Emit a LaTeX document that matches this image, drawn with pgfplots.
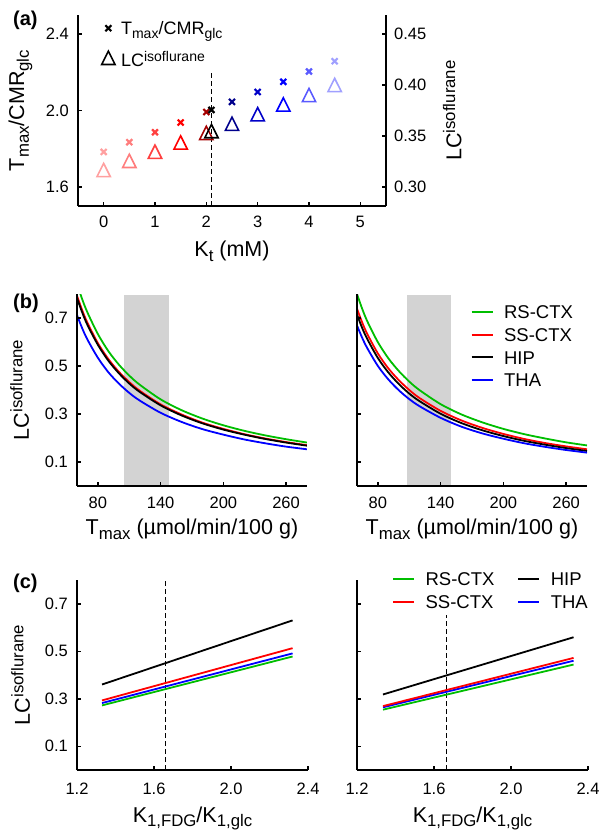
\documentclass[border=0pt]{standalone}
\usepackage{fontspec}
\setmainfont{Liberation Sans}
\usepackage{pgfplots}
\pgfplotsset{compat=1.18}

\definecolor{gcol}{RGB}{0,190,0}
\definecolor{rcol}{RGB}{255,0,0}
\definecolor{bcol}{RGB}{0,0,255}
\definecolor{shade}{RGB}{211,211,211}
\definecolor{m0}{RGB}{255,160,160}
\definecolor{m1}{RGB}{255,125,125}
\definecolor{m2}{RGB}{255,65,65}
\definecolor{m3}{RGB}{255,0,0}
\definecolor{m4}{RGB}{165,0,0}
\definecolor{m5}{RGB}{0,0,140}
\definecolor{m6}{RGB}{0,0,200}
\definecolor{m7}{RGB}{0,0,255}
\definecolor{m8}{RGB}{90,90,255}
\definecolor{m9}{RGB}{160,160,255}

\newdimen\ssbase \newdimen\sssize \newdimen\ssraise
\makeatletter
\newcommand\subsup[3]{{\ssbase=\f@size pt\relax\sssize=#1\ssbase\ssraise=#2\ssbase\edef\ss@sz{\strip@pt\sssize}\raisebox{\ssraise}{\fontsize{\ss@sz}{\ss@sz}\selectfont #3}}}
\makeatother
\newcommand\sub[1]{\subsup{0.78}{-0.22}{#1}}
\newcommand\sups[1]{\subsup{0.78}{0.30}{#1}}

\newcommand\tickfont{\fontsize{16.5}{18}\selectfont}
\newcommand\labfont{\fontsize{21.5}{24}\selectfont}
\newcommand\legfont{\fontsize{18.5}{20}\selectfont}
\newcommand\legfontA{\fontsize{18}{20}\selectfont}

\pgfplotsset{
  base/.style={scale only axis, anchor=south west, axis on top,
    axis line style={line width=1.8pt,-}, x axis line style={-}, y axis line style={-},
    major tick style={black, line width=1.5pt}, major tick length=4.3pt, tick align=inside,
    tick label style={font=\tickfont},
    label style={font=\labfont},
    xlabel style={anchor=base}, ylabel style={anchor=base}},
  lefty/.style={axis x line*=bottom, axis y line*=left,
    yticklabel style={anchor=east, inner sep=0pt, xshift=-9pt}},
  xtl/.style={xticklabel style={anchor=base, inner sep=0pt, yshift=#1}},
  linelegend/.style={legend image code/.code={\draw[##1, line width=1.8pt] (0pt,0pt) -- (21pt,0pt);},
    legend cell align=left,
    legend style={draw=none, fill=none, font=\legfont, inner sep=0pt, row sep=9.3pt,
      nodes={inner sep=0pt, text height=13.3pt, text depth=0pt},
      /tikz/every odd column/.append style={column sep=10.5pt},
      /tikz/every even column/.append style={column sep=23pt}}},
  crs/.style={only marks, mark=x, mark size=4.2pt, line width=2.2pt},
  tri/.style={only marks, mark=triangle, mark size=7.7pt, line width=1.6pt, mark options={yscale=1.15}},
  cv/.style={line width=1.8pt, smooth, forget plot},
  ln/.style={line width=1.8pt, forget plot},
  dsh/.style={black, line width=1.6pt, dash pattern=on 5pt off 3pt, forget plot},
}

\begin{document}
\begin{tikzpicture}
\useasboundingbox (0,0) rectangle (601pt,831pt);

% ---------------- (a) left axis ----------------
\begin{axis}[base, lefty, xtl=-22pt, at={(78pt,625pt)}, width=308pt, height=191pt,
  xmin=-0.5, xmax=5.5, ymin=1.5, ymax=2.5,
  xtick={0,1,2,3,4,5}, xticklabels={0,1,2,3,4,5},
  ytick={1.6,2.0,2.4}, yticklabels={1.6,2.0,2.4},
  xlabel={K\sub{t} (mM)}, xlabel style={at={(axis description cs:0.5,-0.267)}},
  ylabel={T\sub{max}/CMR\sub{glc}}, ylabel style={at={(axis description cs:-0.1747,0.5)}},
  legend image code/.code={\draw[#1] plot coordinates {(0pt,0pt)};},
  legend cell align=left,
  legend style={at={(axis description cs:0.0763,0.966)}, anchor=north west, draw=none, fill=none,
    font=\legfontA, inner sep=0pt, row sep=16.5pt,
    nodes={inner sep=0pt, text height=13pt, text depth=0pt},
    /tikz/every odd column/.append style={column sep=6pt}},
]
\addplot[crs, m0, forget plot] coordinates {(0,1.783)};
\addplot[crs, m1, forget plot] coordinates {(0.5,1.834)};
\addplot[crs, m2, forget plot] coordinates {(1,1.886)};
\addplot[crs, m3, forget plot] coordinates {(1.5,1.937)};
\addplot[crs, m4, forget plot] coordinates {(2,1.992)};
\addplot[crs, m5, forget plot] coordinates {(2.5,2.045)};
\addplot[crs, m6, forget plot] coordinates {(3,2.097)};
\addplot[crs, m7, forget plot] coordinates {(3.5,2.150)};
\addplot[crs, m8, forget plot] coordinates {(4,2.204)};
\addplot[crs, m9, forget plot] coordinates {(4.5,2.258)};
\addplot[dsh] coordinates {(2.1,1.5) (2.1,2.195)};
\addplot[crs, black, forget plot] coordinates {(2.1,2.003)};
\addlegendimage{only marks, mark=x, mark size=4.2pt, line width=2.2pt, black}
\addlegendentry{T\sub{max}/CMR\sub{glc}}
\addlegendimage{only marks, mark=triangle, mark size=7.7pt, line width=1.6pt, mark options={yscale=1.15}, black}
\addlegendentry{LC\sups{isoflurane}}
\end{axis}

% ---------------- (a) right axis ----------------
\begin{axis}[base, at={(78pt,625pt)}, width=308pt, height=191pt,
  xmin=-0.5, xmax=5.5, ymin=0.28125, ymax=0.46875,
  hide x axis, axis y line*=right,
  ytick={0.30,0.35,0.40,0.45}, yticklabels={0.30,0.35,0.40,0.45},
  yticklabel style={anchor=west, inner sep=0pt, xshift=8pt},
  ylabel={LC\sups{isoflurane}}, ylabel style={at={(axis description cs:1.245,0.5)}},
]
\addplot[tri, m0] coordinates {(0,0.3144)};
\addplot[tri, m1] coordinates {(0.5,0.3234)};
\addplot[tri, m2] coordinates {(1,0.3324)};
\addplot[tri, m3] coordinates {(1.5,0.3414)};
\addplot[tri, m4] coordinates {(2,0.3508)};
\addplot[tri, m5] coordinates {(2.5,0.3598)};
\addplot[tri, m6] coordinates {(3,0.3692)};
\addplot[tri, m7] coordinates {(3.5,0.3787)};
\addplot[tri, m8] coordinates {(4,0.3880)};
\addplot[tri, m9] coordinates {(4.5,0.3979)};
\addplot[tri, black] coordinates {(2.1,0.3526)};
\end{axis}

% ---------------- (b) left ----------------
\begin{axis}[base, lefty, xtl=-23pt, at={(77pt,345pt)}, width=230pt, height=192pt,
  xmin=60, xmax=280, ymin=0, ymax=0.8,
  xtick={80,140,200,260}, xticklabels={80,140,200,260},
  ytick={0.1,0.3,0.5,0.7}, yticklabels={0.1,0.3,0.5,0.7},
  xlabel={T\sub{max} (µmol/min/100 g)}, xlabel style={at={(axis description cs:0.5,-0.255)}},
  ylabel={LC\sups{isoflurane}}, ylabel style={at={(axis description cs:-0.2096,0.5)}},
]
\addplot[fill=shade, draw=none, forget plot] coordinates {(105,0.795) (148,0.795)} \closedcycle;
\addplot[cv, gcol] coordinates {(60,0.843) (65,0.778) (70,0.723) (80,0.633) (90,0.562) (100,0.506) (110,0.460) (120,0.422) (140,0.361) (160,0.316) (180,0.281) (200,0.253) (220,0.230) (240,0.211) (260,0.195) (280,0.181)};
\addplot[cv, rcol] coordinates {(60,0.793) (65,0.732) (70,0.680) (80,0.595) (90,0.529) (100,0.476) (110,0.433) (120,0.397) (140,0.340) (160,0.298) (180,0.264) (200,0.238) (220,0.216) (240,0.198) (260,0.183) (280,0.170)};
\addplot[cv, black] coordinates {(60,0.783) (65,0.723) (70,0.671) (80,0.588) (90,0.522) (100,0.470) (110,0.427) (120,0.392) (140,0.336) (160,0.294) (180,0.261) (200,0.235) (220,0.214) (240,0.196) (260,0.181) (280,0.168)};
\addplot[cv, bcol] coordinates {(60,0.712) (65,0.657) (70,0.610) (80,0.534) (90,0.474) (100,0.427) (110,0.388) (120,0.356) (140,0.305) (160,0.267) (180,0.237) (200,0.214) (220,0.194) (240,0.178) (260,0.164) (280,0.153)};
\end{axis}

% ---------------- (b) right ----------------
\begin{axis}[base, lefty, xtl=-23pt, linelegend, at={(357pt,345pt)}, width=230pt, height=192pt,
  xmin=60, xmax=280, ymin=0, ymax=0.8,
  xtick={80,140,200,260}, xticklabels={80,140,200,260},
  ytick={0.1,0.3,0.5,0.7}, yticklabels={},
  xlabel={T\sub{max} (µmol/min/100 g)}, xlabel style={at={(axis description cs:0.5,-0.255)}},
  legend style={at={(axis description cs:0.494,0.941)}, anchor=north west},
]
\addplot[fill=shade, draw=none, forget plot] coordinates {(108,0.795) (150,0.795)} \closedcycle;
\addplot[cv, gcol] coordinates {(60,0.800) (65,0.738) (70,0.685) (80,0.599) (90,0.532) (100,0.479) (110,0.435) (120,0.399) (140,0.341) (160,0.298) (180,0.265) (200,0.238) (220,0.216) (240,0.198) (260,0.182) (280,0.169)};
\addplot[cv, rcol] coordinates {(60,0.739) (65,0.681) (70,0.632) (80,0.552) (90,0.490) (100,0.441) (110,0.400) (120,0.366) (140,0.313) (160,0.273) (180,0.242) (200,0.217) (220,0.196) (240,0.179) (260,0.165) (280,0.153)};
\addplot[cv, black] coordinates {(60,0.714) (65,0.658) (70,0.611) (80,0.533) (90,0.473) (100,0.425) (110,0.385) (120,0.353) (140,0.301) (160,0.262) (180,0.232) (200,0.208) (220,0.188) (240,0.172) (260,0.158) (280,0.146)};
\addplot[cv, bcol] coordinates {(60,0.669) (65,0.617) (70,0.573) (80,0.500) (90,0.444) (100,0.399) (110,0.362) (120,0.332) (140,0.284) (160,0.247) (180,0.219) (200,0.197) (220,0.178) (240,0.163) (260,0.150) (280,0.139)};
\addlegendimage{gcol}\addlegendentry{RS-CTX}
\addlegendimage{rcol}\addlegendentry{SS-CTX}
\addlegendimage{black}\addlegendentry{HIP}
\addlegendimage{bcol}\addlegendentry{THA}
\end{axis}

% ---------------- (c) left ----------------
\begin{axis}[base, lefty, xtl=-24pt, at={(77pt,61pt)}, width=231pt, height=190pt,
  xmin=1.2, xmax=2.4, ymin=0, ymax=0.8,
  xtick={1.2,1.6,2.0,2.4}, xticklabels={1.2,1.6,2.0,2.4},
  ytick={0.1,0.3,0.5,0.7}, yticklabels={0.1,0.3,0.5,0.7},
  xlabel={K\sub{1,FDG}/K\sub{1,glc}}, xlabel style={at={(axis description cs:0.5,-0.274)}},
  ylabel={LC\sups{isoflurane}}, ylabel style={at={(axis description cs:-0.2043,0.5)}},
]
\addplot[dsh] coordinates {(1.66,0) (1.66,0.8)};
\addplot[ln, black] coordinates {(1.33,0.360) (2.32,0.630)};
\addplot[ln, gcol] coordinates {(1.33,0.272) (2.32,0.478)};
\addplot[ln, bcol] coordinates {(1.33,0.282) (2.32,0.491)};
\addplot[ln, rcol] coordinates {(1.33,0.293) (2.32,0.513)};
\end{axis}

% ---------------- (c) right ----------------
\begin{axis}[base, lefty, xtl=-24pt, linelegend, at={(357pt,61pt)}, width=231pt, height=190pt,
  xmin=1.2, xmax=2.4, ymin=0, ymax=0.8,
  xtick={1.2,1.6,2.0,2.4}, xticklabels={1.2,1.6,2.0,2.4},
  ytick={0.1,0.3,0.5,0.7}, yticklabels={},
  xlabel={K\sub{1,FDG}/K\sub{1,glc}}, xlabel style={at={(axis description cs:0.5,-0.274)}},
  legend columns=2,
  legend style={at={(axis description cs:0.152,1.04)}, anchor=north west},
]
\addplot[dsh] coordinates {(1.665,0) (1.665,0.651)};
\addplot[ln, black] coordinates {(1.335,0.318) (2.325,0.559)};
\addplot[ln, gcol] coordinates {(1.335,0.254) (2.325,0.444)};
\addplot[ln, bcol] coordinates {(1.335,0.264) (2.325,0.460)};
\addplot[ln, rcol] coordinates {(1.335,0.269) (2.325,0.472)};
\addlegendimage{gcol}\addlegendentry{RS-CTX}
\addlegendimage{black}\addlegendentry{HIP}
\addlegendimage{rcol}\addlegendentry{SS-CTX}
\addlegendimage{bcol}\addlegendentry{THA}
\end{axis}

\node[anchor=base west, inner sep=0pt, font=\bfseries\fontsize{20}{20}\selectfont] at (13pt,805pt) {(a)};
\node[anchor=base west, inner sep=0pt, font=\bfseries\fontsize{20}{20}\selectfont] at (13pt,522pt) {(b)};
\node[anchor=base west, inner sep=0pt, font=\bfseries\fontsize{20}{20}\selectfont] at (13pt,242pt) {(c)};
\end{tikzpicture}
\end{document}
